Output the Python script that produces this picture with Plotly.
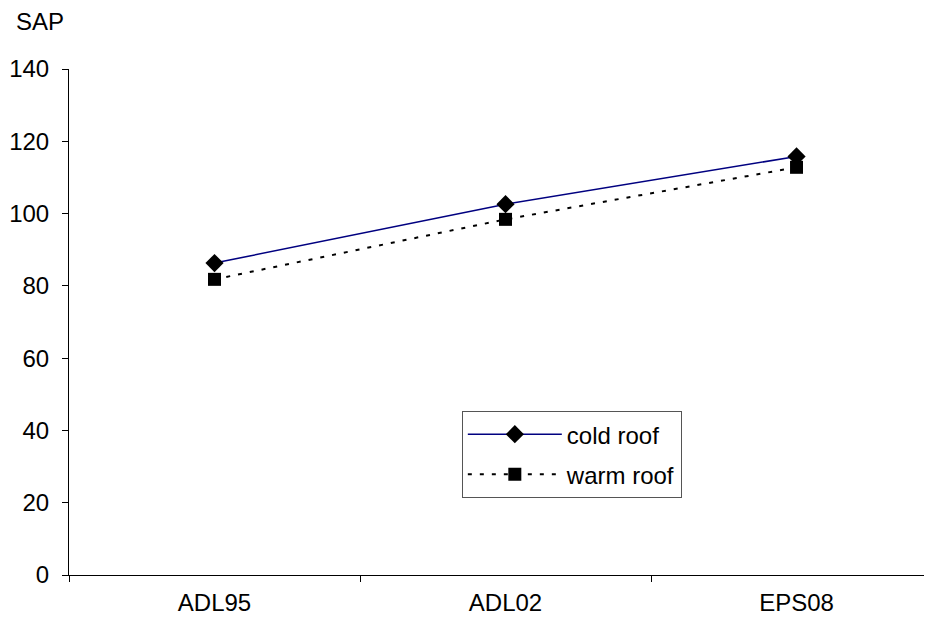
import plotly.graph_objects as go

categories = ["ADL95", "ADL02", "EPS08"]
cold_roof = [86.3, 102.6, 115.8]
warm_roof = [81.8, 98.4, 112.8]
y_ticks = [0, 20, 40, 60, 80, 100, 120, 140]

font = "Liberation Sans, Arial, sans-serif"
fs = 24

fig = go.Figure()
fig.add_trace(go.Scatter(
    x=categories, y=cold_roof, name="cold roof", mode="lines+markers",
    legendgroup="a",
    line=dict(color="#000080", width=1.5),
    marker=dict(symbol="diamond", size=14, color="black"),
))
fig.add_trace(go.Scatter(
    x=categories, y=warm_roof, name="warm roof", mode="lines+markers",
    legendgroup="b",
    line=dict(color="black", width=2, dash="4px,8px"),
    marker=dict(symbol="square", size=13, color="black"),
))

fig.update_layout(
    width=932, height=624,
    margin=dict(l=61, r=0, t=61, b=57),
    plot_bgcolor="white", paper_bgcolor="white",
    font=dict(family=font, size=fs, color="black"),
    showlegend=True,
    legend=dict(
        x=0.451, y=0.324, xanchor="left", yanchor="top",
        bordercolor="#555555", borderwidth=1, bgcolor="white",
        font=dict(family=font, size=fs), traceorder="grouped",
        tracegroupgap=6, itemwidth=94,
    ),
    xaxis=dict(
        type="category", range=[-0.5, 2.493], tickson="boundaries",
        ticks="outside", ticklen=6, tickcolor="black", showline=True,
        linecolor="black", linewidth=1, showgrid=False, zeroline=False,
        tickfont=dict(family=font, size=fs), ticklabelstandoff=6,
    ),
    yaxis=dict(
        range=[0, 140], tickvals=y_ticks, ticks="outside", ticklen=6,
        tickcolor="black", showline=True, linecolor="black", linewidth=1,
        showgrid=False, zeroline=False, tickfont=dict(family=font, size=fs),
        ticklabelstandoff=8,
    ),
    annotations=[dict(
        text="SAP", xref="paper", yref="paper", x=-0.063, y=1.093,
        xanchor="left", yanchor="middle", showarrow=False,
        font=dict(family=font, size=fs),
    )],
)

fig.write_html("out.html")
